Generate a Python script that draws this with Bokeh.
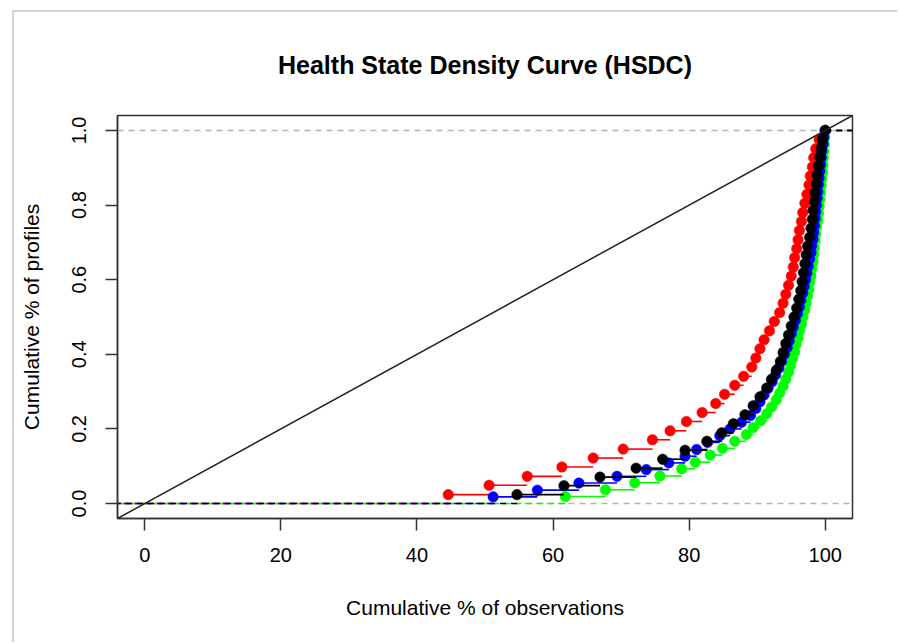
from bokeh.plotting import figure
from bokeh.models import Range1d, Span, Slope, FixedTicker, ColumnDataSource
from bokeh.embed import file_html
from bokeh.resources import INLINE
import math

# Cumulative % of observations (x) and cumulative share of profiles (y) per group
red_x = [44.6, 50.6, 56.2, 61.3, 65.9, 70.3, 74.6, 77.2, 79.6, 81.9, 83.9, 85.2, 86.7, 88.0,
         89.2, 89.8, 90.4, 91.0, 91.8, 92.5, 93.3, 93.8, 94.2, 94.6, 95.0, 95.3, 95.5, 95.8,
         96.0, 96.2, 96.5, 96.7, 97.0, 97.3, 97.6, 97.8, 98.1, 98.3, 98.6, 99.1, 100.0]
red_y = [0.024, 0.049, 0.073, 0.098, 0.122, 0.146, 0.171, 0.195, 0.220, 0.244, 0.268, 0.293,
         0.317, 0.341, 0.366, 0.390, 0.415, 0.439, 0.463, 0.488, 0.512, 0.537, 0.561, 0.585,
         0.610, 0.634, 0.659, 0.683, 0.707, 0.732, 0.756, 0.780, 0.805, 0.829, 0.854, 0.878,
         0.902, 0.927, 0.951, 0.976, 1.000]

green_x = [61.8, 67.7, 72.0, 75.7, 78.9, 80.9, 83.1, 84.9, 86.7, 88.4, 89.4, 90.5, 91.4, 92.1,
           92.8, 93.3, 93.8, 94.2, 94.6, 94.9, 95.2, 95.5, 95.7, 96.0, 96.2, 96.5, 96.7, 97.0,
           97.2, 97.4, 97.6, 97.7, 97.9, 98.0, 98.2, 98.3, 98.4, 98.5, 98.6, 98.7, 98.9, 99.0,
           99.1, 99.2, 99.3, 99.4, 99.5, 99.6, 99.65, 99.7, 99.8, 99.85, 99.9, 100.0]
green_y = [0.019, 0.037, 0.056, 0.074, 0.093, 0.111, 0.130, 0.148, 0.167, 0.185, 0.204, 0.222,
           0.241, 0.259, 0.278, 0.296, 0.315, 0.333, 0.352, 0.370, 0.389, 0.407, 0.426, 0.444,
           0.463, 0.481, 0.500, 0.519, 0.537, 0.556, 0.574, 0.593, 0.611, 0.630, 0.648, 0.667,
           0.685, 0.704, 0.722, 0.741, 0.759, 0.778, 0.796, 0.815, 0.833, 0.852, 0.870, 0.889,
           0.907, 0.926, 0.944, 0.963, 0.981, 1.000]

blue_x = [51.2, 57.7, 63.8, 69.4, 73.7, 77.0, 79.4, 81.1, 82.7, 84.5, 86.0, 87.7, 89.0, 89.8,
          90.4, 91.0, 91.6, 92.2, 92.7, 93.2, 93.6, 94.0, 94.4, 94.7, 95.0, 95.3, 95.6, 95.9,
          96.2, 96.4, 96.7, 96.9, 97.1, 97.3, 97.5, 97.7, 97.9, 98.0, 98.2, 98.3, 98.4, 98.5,
          98.6, 98.7, 98.8, 98.9, 99.0, 99.1, 99.2, 99.3, 99.4, 99.5, 99.7, 99.8, 100.0]
blue_y = [0.018, 0.036, 0.055, 0.073, 0.091, 0.109, 0.127, 0.145, 0.164, 0.182, 0.200, 0.218,
          0.236, 0.255, 0.273, 0.291, 0.309, 0.327, 0.345, 0.364, 0.382, 0.400, 0.418, 0.436,
          0.455, 0.473, 0.491, 0.509, 0.527, 0.545, 0.564, 0.582, 0.600, 0.618, 0.636, 0.655,
          0.673, 0.691, 0.709, 0.727, 0.745, 0.764, 0.782, 0.800, 0.818, 0.836, 0.855, 0.873,
          0.891, 0.909, 0.927, 0.945, 0.964, 0.982, 1.000]

black_x = [54.7, 61.6, 66.9, 72.2, 76.1, 79.4, 82.6, 84.8, 86.5, 88.2, 89.4, 90.4, 91.4, 92.1,
           92.8, 93.4, 93.8, 94.2, 94.6, 95.0, 95.4, 95.8, 96.1, 96.4, 96.6, 96.8, 97.0, 97.2,
           97.4, 97.7, 97.9, 98.1, 98.2, 98.4, 98.5, 98.7, 98.8, 99.0, 99.2, 99.4, 99.6, 100.0]
black_y = [0.024, 0.048, 0.071, 0.095, 0.119, 0.143, 0.167, 0.190, 0.214, 0.238, 0.262, 0.286,
           0.310, 0.333, 0.357, 0.381, 0.405, 0.429, 0.452, 0.476, 0.500, 0.524, 0.548, 0.571,
           0.595, 0.619, 0.643, 0.667, 0.690, 0.714, 0.738, 0.762, 0.786, 0.810, 0.833, 0.857,
           0.881, 0.905, 0.929, 0.952, 0.976, 1.000]

x_ticks = [0, 20, 40, 60, 80, 100]
y_ticks = [0.0, 0.2, 0.4, 0.6, 0.8, 1.0]
y_tick_labels = ["0.0", "0.2", "0.4", "0.6", "0.8", "1.0"]

FONT = "Liberation Sans"

p = figure(
    width=885, height=632,
    x_range=Range1d(-4, 104), y_range=Range1d(-0.04, 1.04),
    title="Health State Density Curve (HSDC)",
    output_backend="svg", toolbar_location=None,
    min_border_left=103, min_border_right=47, min_border_top=103, min_border_bottom=126,
)
p.margin = (10, 0, 0, 12)
p.styles = {"border-top": "2px solid #d2d2d2", "border-left": "2px solid #d2d2d2"}

p.title.text_font = FONT
p.title.text_font_size = "25px"
p.title.text_font_style = "bold"
p.title.text_color = "black"
p.title.align = "center"
p.title.standoff = 73

p.grid.visible = False
p.outline_line_color = "#333333"
p.outline_line_width = 1.5
p.outline_line_alpha = 1.0

for ax in (p.xaxis[0], p.yaxis[0]):
    ax.axis_line_color = "#333333"
    ax.axis_line_width = 1.5
    ax.major_tick_line_color = "#333333"
    ax.major_tick_line_width = 1.5
    ax.major_tick_out = 12
    ax.major_tick_in = 0
    ax.minor_tick_line_color = None
    ax.major_label_text_font = FONT
    ax.major_label_text_font_size = "20px"
    ax.major_label_text_color = "black"
    ax.axis_label_text_font = FONT
    ax.axis_label_text_font_size = "21px"
    ax.axis_label_text_font_style = "normal"
    ax.axis_label_text_color = "black"

p.xaxis.ticker = FixedTicker(ticks=x_ticks)
p.xaxis.axis_label = "Cumulative % of observations"
p.xaxis.major_label_standoff = 17
p.xaxis.axis_label_standoff = 31

p.yaxis.ticker = FixedTicker(ticks=y_ticks)
p.yaxis.major_label_overrides = {t: s for t, s in zip(y_ticks, y_tick_labels)}
p.yaxis.major_label_orientation = "parallel"
p.yaxis.axis_label = "Cumulative % of profiles"
p.yaxis.major_label_standoff = 19
p.yaxis.axis_label_standoff = 27

# Reference lines at 0 and 1
for loc in (0, 1):
    p.add_layout(Span(location=loc, dimension="width", line_color="#b3b3b3",
                      line_dash="6 5", line_width=1.5, level="underlay"))

# Line of equality
p.add_layout(Slope(gradient=0.01, y_intercept=0, line_color="#222222", line_width=1.5))

series = [
    (red_x, red_y, "#ff0000"),
    (green_x, green_y, "#00ff00"),
    (blue_x, blue_y, "#0000ff"),
    (black_x, black_y, "#000000"),
]

for xs, ys, col in series:
    # step segments: each point extends right to the next point's x
    seg = ColumnDataSource(dict(x0=xs[:-1], x1=xs[1:], y=ys[:-1]))
    p.segment(x0="x0", y0="y", x1="x1", y1="y", source=seg, line_color=col, line_width=1.6)
    # open-ended extensions at 0 (left) and at the final level (right)
    p.ray(x=[xs[0]], y=[0], length=0, angle=math.pi, line_color=col,
          line_width=1.5, line_dash="6 5")
    p.ray(x=[xs[-1]], y=[ys[-1]], length=0, angle=0, line_color=col,
          line_width=1.5, line_dash="6 5")
    p.scatter(x=xs, y=ys, size=10.5, fill_color=col, line_color=col, line_width=0.5)

open("out.html", "w").write(file_html(p, INLINE))
